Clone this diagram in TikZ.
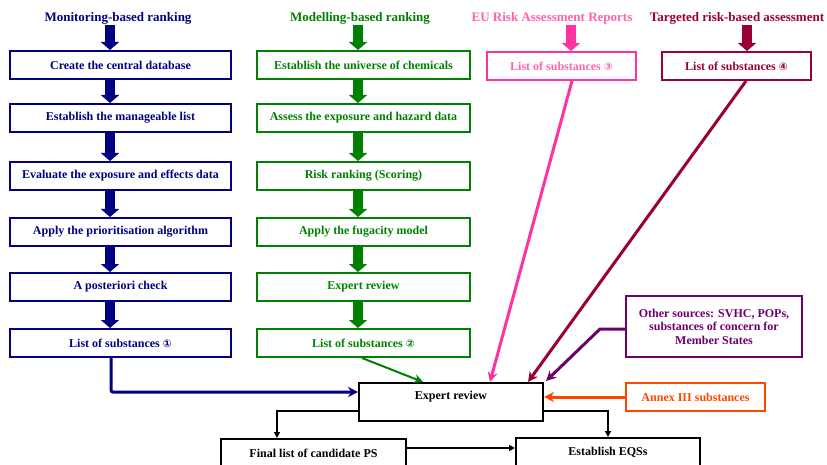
\documentclass[tikz,border=0pt]{standalone}
\usepackage{fontspec}
\setmainfont{Liberation Serif}
\newfontfamily\symfont{DejaVu Sans}
\usetikzlibrary{arrows.meta,calc}
\definecolor{mblue}{RGB}{0,0,128}
\definecolor{mgreen}{RGB}{0,128,0}
\definecolor{mpink}{RGB}{255,51,160}
\definecolor{mpinktxt}{RGB}{255,100,170}
\definecolor{mdred}{RGB}{153,0,51}
\definecolor{mpurple}{RGB}{110,0,110}
\definecolor{morange}{RGB}{255,69,0}
\newcommand{\circnum}[1]{{\symfont\fontsize{10.5}{12}\selectfont #1}}
\tikzset{
  every node/.style={font=\fontsize{12}{13.5}\selectfont\bfseries},
  stepbox/.style={draw, line width=2pt, minimum height=28pt, inner sep=0pt},
  titletxt/.style={inner sep=0pt, font=\fontsize{13}{15}\selectfont\bfseries},
  blockarrow/.style={line width=10pt, -{Triangle[width=18pt,length=8pt]}},
  conn/.style={line width=3pt, -{Stealth[width=10pt,length=10pt]}},
  blk/.style={line width=1.5pt, -{Triangle[width=6pt,length=6pt]}}
}
\begin{document}
\begin{tikzpicture}[x=1pt,y=-1pt]
\useasboundingbox (0,0) rectangle (827,465);
% titles
\node[titletxt, text=mblue] (t1) at (118,18) {Monitoring-based ranking};
\node[titletxt, text=mgreen] (t2) at (360,18) {Modelling-based ranking};
\node[titletxt, text=mpinktxt] (t3) at (552,18) {EU Risk Assessment Reports};
\node[titletxt, text=mdred] (t4) at (737,18) {Targeted risk-based assessment};
% blue column
\begin{scope}[every node/.append style={stepbox, draw=mblue, text=mblue, minimum width=221pt}]
\node (b1) at (120.5,65) {Create the central database};
\node (b2) at (120.5,118) {Establish the manageable list};
\node (b3) at (120.5,176) {Evaluate the exposure and effects data};
\node (b4) at (120.5,232) {Apply the prioritisation algorithm};
\node (b5) at (120.5,287) {A posteriori check};
\node (b6) at (120.5,343) {List of substances \circnum{①}};
\end{scope}
% green column
\begin{scope}[every node/.append style={stepbox, draw=mgreen, text=mgreen, minimum width=213pt}]
\node (g1) at (363.5,65) {Establish the universe of chemicals};
\node (g2) at (363.5,118) {Assess the exposure and hazard data};
\node (g3) at (363.5,176) {Risk ranking (Scoring)};
\node (g4) at (363.5,232) {Apply the fugacity model};
\node (g5) at (363.5,287) {Expert review};
\node (g6) at (363.5,343) {List of substances \circnum{②}};
\end{scope}
% pink and dark red
\node[stepbox, draw=mpink, text=mpinktxt, minimum width=149pt] (p1) at (561.5,66) {List of substances \circnum{③}};
\node[stepbox, draw=mdred, text=mdred, minimum width=149pt] (d1) at (736.5,66) {List of substances \circnum{④}};
% other sources
\node[draw=mpurple, line width=2pt, text=mpurple, minimum width=176pt, minimum height=61pt, align=center, inner sep=0pt] (os) at (714,326.5) {Other sources: SVHC, POPs,\\substances of concern for\\Member States};
\node[stepbox, draw=morange, text=morange, minimum width=139pt] (an) at (695.5,397) {Annex III substances};
% expert review and bottom
\node[draw=black, line width=2pt, minimum width=184pt, minimum height=38pt, inner sep=0pt, text height=7pt, text depth=12pt] (er) at (451,402) {Expert review};
\node[stepbox, draw=black, minimum width=185pt] (fl) at (313.5,453) {Final list of candidate PS};
\node[stepbox, draw=black, minimum width=184pt] (eq) at (608,452) {Establish EQSs};
% block arrows
\coordinate (bx) at (110,0);
\coordinate (gx) at (358,0);
\draw[blockarrow, mblue] (bx |- 0,25) -- (bx |- b1.north);
\draw[blockarrow, mblue] (bx |- b1.south) -- (bx |- b2.north);
\draw[blockarrow, mblue] (bx |- b2.south) -- (bx |- b3.north);
\draw[blockarrow, mblue] (bx |- b3.south) -- (bx |- b4.north);
\draw[blockarrow, mblue] (bx |- b4.south) -- (bx |- b5.north);
\draw[blockarrow, mblue] (bx |- b5.south) -- (bx |- b6.north);
\draw[blockarrow, mgreen] (gx |- 0,25) -- (gx |- g1.north);
\draw[blockarrow, mgreen] (gx |- g1.south) -- (gx |- g2.north);
\draw[blockarrow, mgreen] (gx |- g2.south) -- (gx |- g3.north);
\draw[blockarrow, mgreen] (gx |- g3.south) -- (gx |- g4.north);
\draw[blockarrow, mgreen] (gx |- g4.south) -- (gx |- g5.north);
\draw[blockarrow, mgreen] (gx |- g5.south) -- (gx |- g6.north);
\coordinate (px) at (571,0);
\coordinate (dx) at (747,0);
\draw[blockarrow, mpink] (px |- 0,25) -- (px |- p1.north);
\draw[blockarrow, mdred] (dx |- 0,25) -- (dx |- d1.north);
% connectors into expert review
\draw[conn, mblue, rounded corners=2pt] ([xshift=-9.5pt]b6.south) |- ([yshift=10pt]er.west);
\draw[line width=2pt, mgreen, -{Stealth[width=9pt,length=9pt]}] ([xshift=-1.5pt]g6.south) -- ([xshift=-28pt]er.north);
\draw[conn, mpink] ([xshift=10.5pt]p1.south) -- ([xshift=39pt]er.north);
\draw[conn, mdred] ([xshift=9.5pt]d1.south) -- ([xshift=77pt]er.north);
\coordinate (pk) at (600,329);
\draw[conn, mpurple] ([yshift=-2.5pt]os.west) -- (pk) -- ([xshift=2pt,yshift=1pt]er.north east);
\draw[conn, morange] (an.west) -- (an.west -| er.east);
% bottom
\draw[blk] ([yshift=-9pt]er.west) -| ([xshift=-36.5pt]fl.north);
\draw[blk] ([yshift=-9pt]er.east) -| (eq.north);
\draw[blk] ([yshift=5pt]fl.east) -- ([yshift=5pt]fl.east -| eq.west);
\end{tikzpicture}
\end{document}
